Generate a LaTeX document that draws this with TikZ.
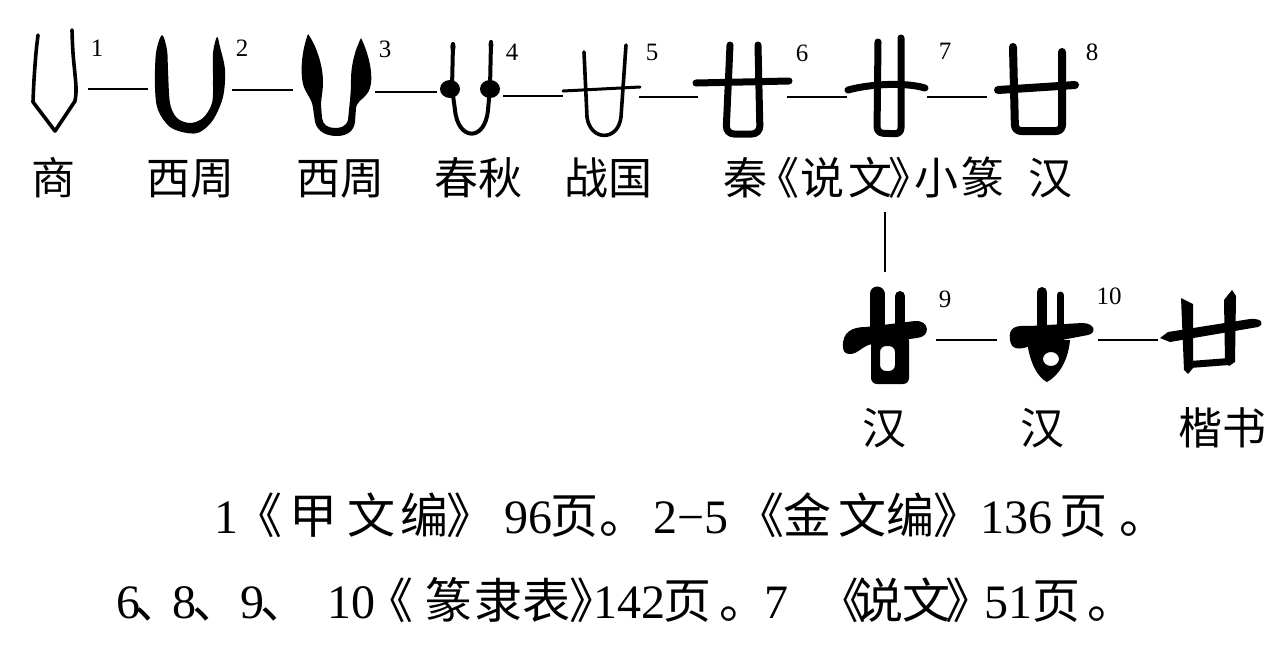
\documentclass[tikz,border=0pt]{standalone}
\usepackage{fontspec}
\setmainfont{Liberation Serif}
\newfontfamily\cjk{Noto Sans CJK SC}
\newcommand\zh[1]{{\cjk #1}}
\begin{document}
\begin{tikzpicture}[x=0.5pt,y=-0.5pt,
  conn/.style={line width=1pt},
  glyph/.style={line cap=round,line join=round},
  lab/.style={font=\cjk\fontsize{22}{22}\selectfont,inner sep=0pt,anchor=base},
  num/.style={font=\fontsize{12.5}{12.5}\selectfont,inner sep=0pt},
  foot/.style={font=\fontsize{24}{24}\selectfont,inner sep=0pt,anchor=base west}]
\useasboundingbox[fill=white] (0,0) rectangle (1280,649);

% ---------- glyph 1
\draw[glyph,line width=1.8pt] plot[smooth,tension=0.6] coordinates {(38,35) (36,53) (34,80) (33,102)} -- (55,131) -- plot[smooth,tension=0.6] coordinates {(75,101) (76,87) (73,53) (72,30)};
% ---------- glyph 2
\fill plot[smooth cycle,tension=0.55] coordinates {(162,35) (156,53) (155,87) (158,110) (170,127) (187,133) (200,132) (213,120) (223,97) (225,70) (220,47) (217,37) (213,53) (213,80) (212,103) (203,118) (190,123) (177,118) (170,103) (168,70) (167,50)};
% ---------- glyph 3
\fill (308,34) .. controls (302,50) and (300,70) .. (303,84)
  .. controls (305,93) and (312,98) .. (313,108)
  -- (315,122) .. controls (318,133) and (328,136) .. (337,136)
  .. controls (347,136) and (354,131) .. (355,122)
  -- (356,108) .. controls (357,100) and (367,98) .. (370,88)
  .. controls (374,74) and (368,52) .. (361,38)
  .. controls (355,50) and (351,65) .. (351,80)
  .. controls (351,92) and (350,100) .. (349,110)
  -- (348,120) .. controls (346,127) and (340,128) .. (335,128)
  .. controls (328,128) and (323,125) .. (322,118)
  -- (321,105) .. controls (321,98) and (323,92) .. (323,82)
  .. controls (323,65) and (316,45) .. (308,34) -- cycle;
% ---------- glyph 4
\draw[glyph,line width=2pt] (453,44) -- (452,88) -- (455,110) .. controls (458,141) and (485,142) .. (488,110) -- (490,88) -- (491,42);
\fill (450,89) ellipse[x radius=10,y radius=9];
\fill (490,89) ellipse[x radius=10,y radius=9];
\fill (453,47) ellipse[x radius=2.6,y radius=5];
\fill (491,45) ellipse[x radius=2.4,y radius=5];
% ---------- glyph 5
\draw[glyph,line width=1.5pt] (563,91) -- (640,87);
\draw[glyph,line width=1.8pt] (584,52) -- (587,117) .. controls (590,141) and (618,142) .. (621,117) -- (626,45);
% ---------- glyph 6
\draw[glyph,line width=3.5pt] (696,83) -- (789,81);
\draw[glyph,line width=3.5pt,rounded corners=4pt] (730,45) -- (726,134) -- (760,134) -- (758,45);
% ---------- glyph 7
\draw[glyph,line width=3.5pt] (848,90) .. controls (870,84) and (905,82) .. (925,88);
\draw[glyph,line width=3.5pt,rounded corners=3pt] (878,42) -- (877,133) -- (901,134) -- (901,38);
% ---------- glyph 8
\draw[glyph,line width=4pt] (998,90) -- (1075,85);
\draw[glyph,line width=4pt,rounded corners=3pt] (1013,47) -- (1015,131) -- (1062,131) -- (1062,52);
% ---------- glyph 9
\draw[glyph,line width=7.5pt] (877,294) -- (877,340);
\draw[glyph,line width=5pt] (900,296) -- (900,340);
\fill[even odd rule,rounded corners=3pt] (871,335) rectangle (909,384) (880,346) rectangle (895,371);
\fill (843,347) .. controls (842,332) and (852,327) .. (866,327) -- (915,321) .. controls (930,320) and (931,337) .. (917,338) -- (872,344) .. controls (862,346) and (858,354) .. (850,354) .. controls (845,354) and (843,351) .. (843,347) -- cycle;
% ---------- glyph 10
\draw[glyph,line width=5pt] (1042,292) -- (1042,340);
\draw[glyph,line width=3.5pt] (1060,295) -- (1060,340);
\fill (1010,340) .. controls (1008,327) and (1016,325) .. (1030,326) -- (1082,323) .. controls (1095,323) and (1097,333) .. (1088,335) -- (1030,346) .. controls (1020,350) and (1011,350) .. (1010,340) -- cycle;
\fill[even odd rule] (1027,340) .. controls (1029,362) and (1038,378) .. (1047,382) .. controls (1058,376) and (1068,362) .. (1070,340) -- cycle (1051,359) ellipse[x radius=8,y radius=7];
% ---------- glyph 11 (kaishu)
\fill (1160,338) -- (1168,332) -- (1250,319) .. controls (1262,318) and (1265,324) .. (1258,327) -- (1170,342) -- cycle;
\fill (1181,298) -- (1193,304) -- (1193,368) -- (1188,374) -- (1184,370) -- cycle;
\fill (1224,300) -- (1232,290) -- (1236,296) -- (1235,362) -- (1229,366) -- (1225,362) -- cycle;
\fill (1190,361) -- (1229,358) -- (1229,365) -- (1190,368) -- cycle;

% ---------- numbers
\node[num] (n1) at (97,48) {1};
\node[num] (n2) at (242,48) {2};
\node[num] (n3) at (385,49) {3};
\node[num] (n4) at (512,52) {4};
\node[num] (n5) at (652,52) {5};
\node[num] (n6) at (802,53) {6};
\node[num] (n7) at (945,51) {7};
\node[num] (n8) at (1092,52) {8};
\node[num] (n9) at (945,299) {9};
\node[num] (n10) at (1109,296) {10};

% ---------- connectors
\coordinate (c1a) at (88,89);   \coordinate (c1b) at (148,89);
\coordinate (c2a) at (232,90);  \coordinate (c2b) at (293,90);
\coordinate (c3a) at (375,92);  \coordinate (c3b) at (437,92);
\coordinate (c4a) at (503,96);  \coordinate (c4b) at (563,96);
\coordinate (c5a) at (639,97);  \coordinate (c5b) at (698,97);
\coordinate (c6a) at (787,97);  \coordinate (c6b) at (847,97);
\coordinate (c7a) at (927,97);  \coordinate (c7b) at (987,97);
\coordinate (c9a) at (936,340); \coordinate (c9b) at (997,340);
\coordinate (c10a) at (1098,340); \coordinate (c10b) at (1158,340);
\coordinate (va) at (885,212);  \coordinate (vb) at (885,272);
\foreach \a/\b in {c1a/c1b,c2a/c2b,c3a/c3b,c4a/c4b,c5a/c5b,c6a/c6b,c7a/c7b,c9a/c9b,c10a/c10b,va/vb}
  \draw[conn] (\a) -- (\b);

% ---------- labels
\node[lab] (l1) at (54,194) {商};
\node[lab] (l2) at (190,194) {西周};
\node[lab] (l3) at (340,194) {西周};
\node[lab] (l4) at (478,194) {春秋};
\node[lab] (l5) at (608,194) {战国};
\node[lab,anchor=base west] (l6) at (723,194) {秦\hspace{-6pt}《\hspace{0.5pt}说\hspace{2pt}文\hspace{-2pt}》\hspace{-9pt}小\hspace{1pt}篆};
\node[lab] (l7) at (1050,194) {汉};
\node[lab] (l8) at (884,444) {汉};
\node[lab] (l9) at (1042,444) {汉};
\node[lab] (l10) at (1222,444) {楷书};

% ---------- footnotes
\node[foot] (f1) at (214,533) {1\hspace{-2pt}\zh{《}\hspace{3.5pt}\zh{甲}\hspace{5pt}\zh{文}\hspace{2.5pt}\zh{编}\hspace{-1pt}\zh{》}\hspace{5pt}96\hspace{-1pt}\zh{页}\hspace{0.5pt}\zh{。}\hspace{3.25pt}2−5\hspace{3.75pt}\zh{《}\hspace{-0.5pt}\zh{金}\hspace{3.5pt}\zh{文}\zh{编}\hspace{-0.5pt}\zh{》}\hspace{-0.5pt}136\hspace{3.5pt}\zh{页}\hspace{6pt}\zh{。}};
\node[foot] (f2) at (116,618) {6\hspace{-3pt}\zh{、}\hspace{-5pt}8\hspace{-2pt}\zh{、}9\hspace{-2pt}\zh{、}\hspace{9.5pt}10\hspace{-5pt}\zh{《}\hspace{5.5pt}\zh{篆}\hspace{1pt}\zh{隶}\zh{表}\hspace{-0.5pt}\zh{》}\hspace{-12pt}142\hspace{-1pt}\zh{页}\hspace{4pt}\zh{。}\hspace{-1.5pt}7\hspace{15pt}\zh{《}\hspace{-5.5pt}\zh{说}\hspace{-0.5pt}\zh{文}\hspace{-2.5pt}\zh{》}\hspace{-4.5pt}51\zh{页}\hspace{3.5pt}\zh{。}};
\end{tikzpicture}
\end{document}
